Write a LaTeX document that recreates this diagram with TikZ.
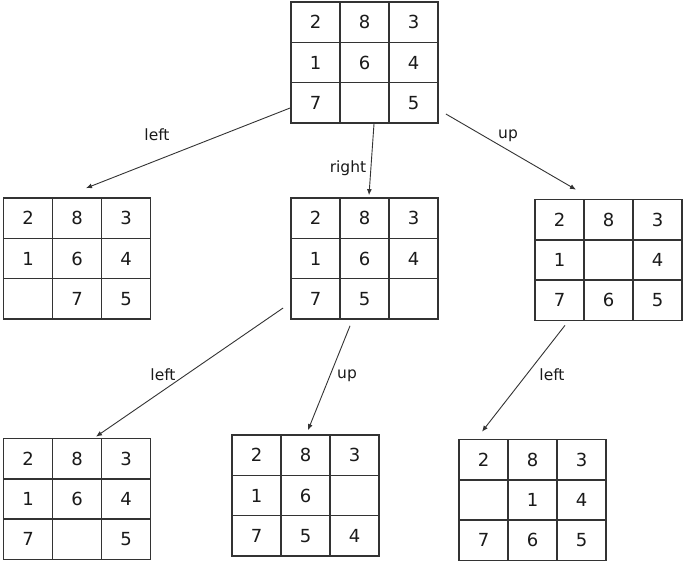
\documentclass[tikz,border=0pt]{standalone}
\usepackage{fontspec}
\setmainfont{DejaVu Sans}
\usetikzlibrary{matrix,arrows.meta}
\definecolor{ln}{HTML}{333333}
\definecolor{tx}{HTML}{1A1A1A}
\tikzset{
 cellbox/.style={draw=ln, line width=1.4pt, minimum width=49pt, minimum height=40.3pt, inner sep=0pt, font=\fontsize{18}{18}\selectfont, text=tx, anchor=center},
 board/.style={matrix of nodes, nodes in empty cells, inner sep=0pt, column sep=-1.4pt, row sep=-1.4pt, nodes={cellbox}},
 arr/.style={draw=ln, line width=0.9pt, -{Latex[length=6pt,width=5pt]}},
 lbl/.style={font=\fontsize{15.5}{15.5}\selectfont, text=tx, inner sep=0pt},
}
\begin{document}
\begin{tikzpicture}[x=1pt,y=-1pt]
\useasboundingbox[fill=white] (0,0) rectangle (685,564);
% boards
\matrix (g0) [board] at (364.5,62.5) {2 & 8 & 3\\ 1 & 6 & 4\\ 7 & & 5\\};
\matrix (g1) [board] at (77,258.5) {2 & 8 & 3\\ 1 & 6 & 4\\ & 7 & 5\\};
\matrix (g2) [board] at (364.5,258.5) {2 & 8 & 3\\ 1 & 6 & 4\\ 7 & 5 & \\};
\matrix (g3) [board] at (608.5,260) {2 & 8 & 3\\ 1 & & 4\\ 7 & 6 & 5\\};
\matrix (g4) [board] at (77,499) {2 & 8 & 3\\ 1 & 6 & 4\\ 7 & & 5\\};
\matrix (g5) [board] at (305.5,495.5) {2 & 8 & 3\\ 1 & 6 & \\ 7 & 5 & 4\\};
\matrix (g6) [board] at (532.5,500) {2 & 8 & 3\\ & 1 & 4\\ 7 & 6 & 5\\};
% connectors
\draw[arr] ([yshift=-45.5pt]g0.west) -- ([xshift=9pt,yshift=9pt]g1.north);
\draw[arr] ([xshift=9.5pt]g0.south) -- ([xshift=4.5pt,yshift=2pt]g2.north);
\draw[arr] ([xshift=7pt,yshift=-51.5pt]g0.east) -- ([xshift=-32.5pt,yshift=9pt]g3.north);
\draw[arr] ([xshift=-7pt,yshift=-49.5pt]g2.west) -- ([xshift=19pt,yshift=1pt]g4.north);
\draw[arr] ([xshift=-14.5pt,yshift=-6pt]g2.south) -- ([xshift=2.5pt,yshift=4pt]g5.north);
\draw[arr] ([xshift=-43.5pt,yshift=-4pt]g3.south) -- ([xshift=-50.5pt,yshift=7pt]g6.north);
% labels
\node[lbl] (l1) at (157,135) {left};
\node[lbl] (l2) at (348,168) {right};
\node[lbl] (l3) at (508,136) {up};
\node[lbl] (l4) at (163,375) {left};
\node[lbl] (l5) at (347,376) {up};
\node[lbl] (l6) at (552,375) {left};
\end{tikzpicture}
\end{document}
